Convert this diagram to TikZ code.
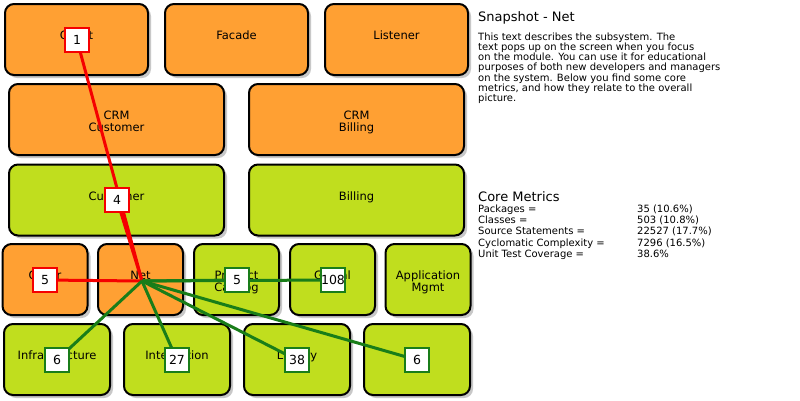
\documentclass[tikz,border=0pt]{standalone}
\usepackage{fontspec}
\setmainfont{DejaVu Sans}
\usetikzlibrary{shadows}
\definecolor{boxorange}{RGB}{255,160,51}
\definecolor{boxgreen}{RGB}{192,222,30}
\definecolor{linkred}{RGB}{245,0,0}
\definecolor{linkgreen}{RGB}{25,125,25}
\pgfdeclarelayer{canvas}
\pgfdeclarelayer{boxes}
\pgfdeclarelayer{links}
\pgfsetlayers{canvas,boxes,links,main}
\begin{document}
\begin{tikzpicture}[x=1pt,y=-1pt,
  mod/.style={draw=black, line width=2pt, rounded corners=9pt, inner sep=0pt,
    drop shadow={shadow xshift=3pt, shadow yshift=-3pt, opacity=0.3, fill=black!70}},
  omod/.style={mod, fill=boxorange},
  gmod/.style={mod, fill=boxgreen},
  wide/.style={minimum width=215pt, minimum height=71pt},
  topw/.style={minimum width=143pt, minimum height=71pt},
  mid/.style={minimum width=85pt, minimum height=71pt},
  low/.style={minimum width=106pt, minimum height=71pt},
  boxtext/.style={anchor=base, inner sep=0pt, font=\fontsize{11.5}{11.7}\selectfont},
  lab/.style={draw, fill=white, line width=2.2pt, minimum size=23.5pt, inner sep=0pt,
    font=\fontsize{12.5}{12.5}\selectfont},
  rlab/.style={lab, draw=linkred},
  glab/.style={lab, draw=linkgreen},
  rlink/.style={draw=linkred, line width=3pt},
  glink/.style={draw=linkgreen, line width=3pt},
  info/.style={anchor=base west, inner sep=0pt, font=\fontsize{10}{10.3}\selectfont},
  head/.style={anchor=base west, inner sep=0pt, font=\fontsize{13}{13}\selectfont}
]
\useasboundingbox (0,0) rectangle (800,400);
\begin{pgfonlayer}{canvas}
\fill[white] (0,0) rectangle (800,400);
\end{pgfonlayer}

\begin{pgfonlayer}{boxes}
% row 1
\node[omod, topw] (client) at (76.5,39.5) {};
\node[omod, topw] (facade) at (236.5,39.5) {};
\node[omod, topw] (listener) at (396.5,39.5) {};
% row 2
\node[omod, wide] (crmcust) at (116.5,119.5) {};
\node[omod, wide] (crmbill) at (356.5,119.5) {};
% row 3
\node[gmod, wide] (customer) at (116.5,200) {};
\node[gmod, wide] (billing) at (356.5,200) {};
% row 4
\node[omod, mid] (order) at (45,279.5) {};
\node[omod, mid] (net) at (140.5,279.5) {};
\node[gmod, mid] (product) at (236.5,279.5) {};
\node[gmod, mid] (global) at (332.5,279.5) {};
\node[gmod, mid] (appmgmt) at (428,279.5) {};
% row 5
\node[gmod, low] (infra) at (57,359.5) {};
\node[gmod, low] (integ) at (177,359.5) {};
\node[gmod, low] (library) at (297,359.5) {};
\node[gmod, low] (misc) at (417,359.5) {};

\node[boxtext] (client-t) at (client.center) {Client};
\node[boxtext] (facade-t) at (facade.center) {Facade};
\node[boxtext] (listener-t) at (listener.center) {Listener};
\node[boxtext] (crmcust-t) at (crmcust.center) {\begin{tabular}[t]{@{}c@{}}CRM\\Customer\end{tabular}};
\node[boxtext] (crmbill-t) at (crmbill.center) {\begin{tabular}[t]{@{}c@{}}CRM\\Billing\end{tabular}};
\node[boxtext] (customer-t) at (customer.center) {Customer};
\node[boxtext] (billing-t) at (billing.center) {Billing};
\node[boxtext] (order-t) at (order.center) {Order};
\node[boxtext] (net-t) at (net.center) {Net};
\node[boxtext] (product-t) at (product.center) {\begin{tabular}[t]{@{}c@{}}Product\\Catalog\end{tabular}};
\node[boxtext] (global-t) at (global.center) {Global};
\node[boxtext] (appmgmt-t) at (appmgmt.center) {\begin{tabular}[t]{@{}c@{}}Application\\Mgmt\end{tabular}};
\node[boxtext] (infra-t) at (infra.center) {Infrastructure};
\node[boxtext] (integ-t) at (integ.center) {Integration};
\node[boxtext] (library-t) at (library.center) {Library};
\end{pgfonlayer}

% count labels
\node[rlab] (l-client) at (77,40) {1};
\node[rlab] (l-customer) at (117,200) {4};
\node[rlab] (l-order) at (45,280) {5};
\node[glab] (l-product) at (237,280) {5};
\node[glab] (l-global) at (333,280) {108};
\node[glab] (l-infra) at (57,360) {6};
\node[glab] (l-integ) at (177,360) {27};
\node[glab] (l-library) at (297,360) {38};
\node[glab] (l-misc) at (417,360) {6};

\coordinate (hub) at (142,281);
\begin{pgfonlayer}{links}
\draw[rlink] (hub) -- (l-client.center);
\draw[rlink] (hub) -- (l-customer.center);
\draw[rlink] (hub) -- (l-order.center);
\draw[glink] (hub) -- (l-product.center);
\draw[glink] (hub) -- (l-global.center);
\draw[glink] (hub) -- (l-infra.center);
\draw[glink] (hub) -- (l-integ.center);
\draw[glink] (hub) -- (l-library.center);
\draw[glink] (hub) -- (l-misc.center);
\end{pgfonlayer}

% description
\node[head] (title) at (478,21) {Snapshot - Net};
\node[info] (d1) at (478,40) {This text describes the subsystem. The};
\node[info] (d2) at (478,50.3) {text pops up on the screen when you focus};
\node[info] (d3) at (478,60.6) {on the module. You can use it for educational};
\node[info] (d4) at (478,70.9) {purposes of both new developers and managers};
\node[info] (d5) at (478,81.2) {on the system. Below you find some core};
\node[info] (d6) at (478,91.5) {metrics, and how they relate to the overall};
\node[info] (d7) at (478,101.8) {picture.};

\node[head] (metrics) at (478,201) {Core Metrics};
\node[info] (m1) at (478,212) {Packages =};
\node[info] (m2) at (478,223.4) {Classes =};
\node[info] (m3) at (478,234.8) {Source Statements =};
\node[info] (m4) at (478,246.2) {Cyclomatic Complexity =};
\node[info] (m5) at (478,257.6) {Unit Test Coverage =};
\node[info] (v1) at (637,212) {35 (10.6\%)};
\node[info] (v2) at (637,223.4) {503 (10.8\%)};
\node[info] (v3) at (637,234.8) {22527 (17.7\%)};
\node[info] (v4) at (637,246.2) {7296 (16.5\%)};
\node[info] (v5) at (637,257.6) {38.6\%};
\end{tikzpicture}
\end{document}
